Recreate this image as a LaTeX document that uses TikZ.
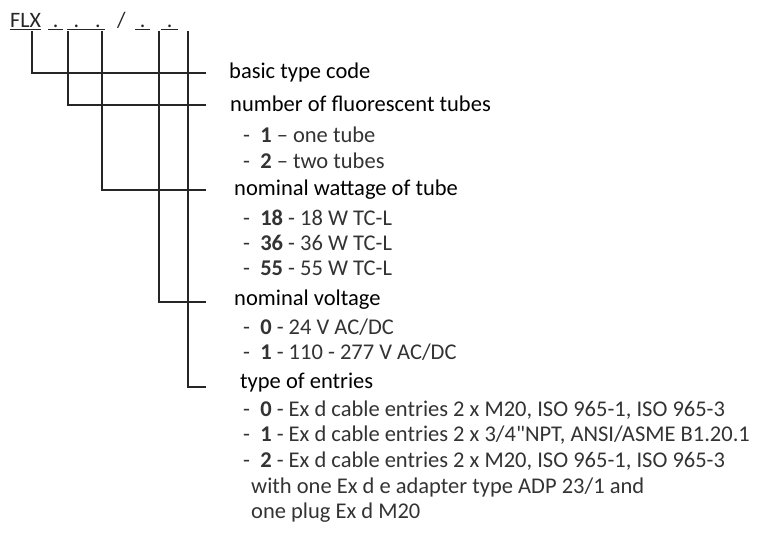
\documentclass[tikz,border=0pt]{standalone}
\usepackage{fontspec}
\setmainfont{Carlito}
\newfontfamily\plainquote{Carlito}[Ligatures=ResetAll]
\usepackage{tikz}
\usetikzlibrary{positioning}
\tikzset{
    codetext/.style={
        anchor=base west,
        inner sep=0pt,
        font=\fontsize{22}{26}\selectfont,
        text=black!85
    },
    headtext/.style={
        anchor=west,
        inner sep=0pt,
        font=\fontsize{22.5}{27}\selectfont
    },
    itemtext/.style={
        anchor=west,
        inner sep=0pt,
        font=\fontsize{22.5}{27}\selectfont,
        text=black!80
    },
    leadline/.style={
        line width=1.2pt,
        black!85
    }
}
\newcommand{\codedot}[1]{\underline{\makebox[#1]{.}}}

\begin{document}
\begin{tikzpicture}[x=1pt,y=-1pt]
    \useasboundingbox (0,0) rectangle (757,535);

    % Type code
    \node[codetext] (code) at (10,28) {\underline{FLX}};
    \node[codetext] (dotA) at (48,28) {\codedot{15pt}};
    \node[codetext] (dotB) at (67,28) {\underline{\makebox[38pt][l]{\hspace{6.5pt}.\hspace{16pt}.}}};
    \node[codetext] (slash) at (117,28) {/};
    \node[codetext] (dotD) at (135,28) {\codedot{15pt}};
    \node[codetext] (dotE) at (161,28) {\codedot{17pt}};

    % Branch ends
    \coordinate (endA) at (206,73);
    \coordinate (endB) at (206,105);
    \coordinate (endC) at (206,190);
    \coordinate (endD) at (206,302);
    \coordinate (endE) at (206,387);

    % Lead lines
    \draw[leadline] (32,31) |- (endA);
    \draw[leadline] (68,31) |- (endB);
    \draw[leadline] (102,31) |- (endC);
    \draw[leadline] (159,31) |- (endD);
    \draw[leadline] (188,31) |- (endE);

    % Basic type
    \node[headtext] (basic) at (229,73) {basic type code};

    % Tubes
    \node[headtext] (tubes) at (230,104) {number of fluorescent tubes};
    \node[itemtext] (tubeA) at (243,135) {-~~\textbf{1} -- one tube};
    \node[itemtext] (tubeB) at (243,161) {-~~\textbf{2} -- two tubes};

    % Wattage
    \node[headtext] (watt) at (234,190) {nominal wattage of tube};
    \node[itemtext] (wattA) at (243,218) {-~~\textbf{18} - 18 W TC-L};
    \node[itemtext] (wattB) at (243,243) {-~~\textbf{36} - 36 W TC-L};
    \node[itemtext] (wattC) at (243,268) {-~~\textbf{55} - 55 W TC-L};

    % Voltage
    \node[headtext] (volt) at (234,300) {nominal voltage};
    \node[itemtext] (voltA) at (243,327) {-~~\textbf{0} - 24 V AC/DC};
    \node[itemtext] (voltB) at (243,352) {-~~\textbf{1} - 110 - 277 V AC/DC};

    % Entries
    \node[headtext] (entry) at (240,383) {type of entries};
    \node[itemtext] (entryA) at (243,410) {-~~\textbf{0} - Ex d cable entries 2 x M20, ISO 965-1, ISO 965-3};
    \node[itemtext] (entryB) at (243,435) {-~~\textbf{1} - Ex d cable entries 2 x 3/4{\plainquote\char34}NPT, ANSI/ASME B1.20.1};
    \node[itemtext] (entryC) at (243,461) {-~~\textbf{2} - Ex d cable entries 2 x M20, ISO 965-1, ISO 965-3};
    \node[itemtext] (entryD) at (251,487) {with one Ex d e adapter type ADP 23/1 and};
    \node[itemtext] (entryE) at (251,513) {one plug Ex d M20};
\end{tikzpicture}
\end{document}
